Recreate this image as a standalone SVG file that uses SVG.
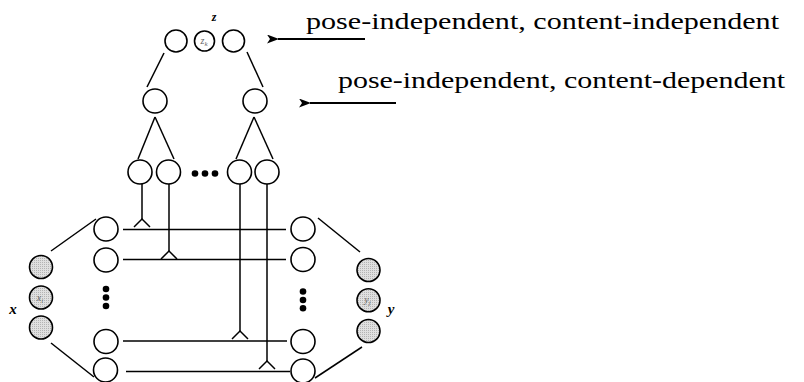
<svg xmlns="http://www.w3.org/2000/svg" width="804" height="382" viewBox="0 0 804 382">
<defs>
<marker id="ah" viewBox="0 0 12 9" refX="1" refY="4.5" markerWidth="12" markerHeight="9" markerUnits="userSpaceOnUse" orient="auto-start-reverse">
<path d="M0,4.5 L12,0 L9,4.5 L12,9 Z" fill="#000"/>
</marker>
<pattern id="dots" width="2" height="2" patternUnits="userSpaceOnUse">
<rect width="2" height="2" fill="#e0e0e0"/>
<rect width="1" height="1" fill="#b4b4b4"/>
</pattern>
</defs>
<style>
.n{fill:#fff;stroke:#000;stroke-width:1.6}
.s{fill:url(#dots);stroke:#000;stroke-width:1.6}
.c line,.c path{stroke:#000;stroke-width:1.5;fill:none}
.c .arr{stroke-width:2.2}
.d{fill:#000}
text{font-family:Liberation Serif, DejaVu Serif, serif}
.big{font-size:24px;fill:#000}
.m{font-style:italic;font-weight:bold;fill:#000}
.in{font-style:italic;font-size:10px;fill:#666}
</style>
<rect width="804" height="382" fill="#fff"/>

<g class="c" id="connectors">
<line x1="164" y1="53" x2="147" y2="87"/>
<line x1="247" y1="52" x2="263" y2="87"/>
<line x1="155" y1="117" x2="138" y2="159"/>
<line x1="155" y1="117" x2="174" y2="159"/>
<line x1="254" y1="117" x2="236" y2="159"/>
<line x1="254" y1="117" x2="273" y2="159"/>
<line x1="142" y1="184" x2="142" y2="219"/>
<path d="M134,227 L142,219 L150,227"/>
<line x1="169" y1="184" x2="169" y2="251"/>
<path d="M161,259 L169,251 L177,259"/>
<line x1="240" y1="184" x2="240" y2="331"/>
<path d="M232,339 L240,331 L248,339"/>
<line x1="267" y1="184" x2="267" y2="361"/>
<path d="M259,369 L267,361 L275,369"/>
<line x1="123" y1="229.5" x2="286" y2="229.5"/>
<line x1="123" y1="259.5" x2="286" y2="259.5"/>
<line x1="123" y1="341" x2="287" y2="341"/>
<line x1="126" y1="371.5" x2="290" y2="371.5"/>
<line x1="51" y1="251" x2="96" y2="219"/>
<line x1="51" y1="343" x2="94" y2="377"/>
<line x1="318" y1="218" x2="360" y2="252"/>
<line x1="362" y1="347" x2="315" y2="378"/>
<line class="arr" x1="365" y1="39" x2="278" y2="39" marker-end="url(#ah)"/>
<line class="arr" x1="396" y1="103" x2="310" y2="103" marker-end="url(#ah)"/>
</g>

<g id="top-left"><circle class="n" cx="176" cy="41" r="11"/></g>
<g id="top-zk"><circle class="n" cx="204.5" cy="41" r="10"/><text class="in" x="204" y="44" text-anchor="middle">z<tspan font-size="7" dy="2">k</tspan></text></g>
<g id="top-right"><circle class="n" cx="233.5" cy="41" r="11"/></g>
<g id="z-label"><text class="m" x="214" y="21" font-size="12" text-anchor="middle">z</text></g>

<g id="mid-left"><circle class="n" cx="155" cy="101" r="12"/></g>
<g id="mid-right"><circle class="n" cx="255" cy="101" r="12"/></g>

<g id="leaf-1"><circle class="n" cx="140" cy="172" r="12"/></g>
<g id="leaf-2"><circle class="n" cx="168.5" cy="172" r="12"/></g>
<g id="leaf-dots"><circle class="d" cx="195" cy="173.5" r="3.3"/><circle class="d" cx="205" cy="173.5" r="3.3"/><circle class="d" cx="215" cy="173.5" r="3.3"/></g>
<g id="leaf-3"><circle class="n" cx="239.5" cy="172" r="12"/></g>
<g id="leaf-4"><circle class="n" cx="267" cy="172" r="12"/></g>

<g id="l1"><circle class="n" cx="106" cy="229" r="12"/></g>
<g id="l2"><circle class="n" cx="106" cy="260" r="12"/></g>
<g id="l-dots"><circle class="d" cx="106" cy="289" r="3.3"/><circle class="d" cx="106" cy="297.5" r="3.3"/><circle class="d" cx="106" cy="306" r="3.3"/></g>
<g id="l3"><circle class="n" cx="106" cy="341.5" r="12"/></g>
<g id="l4"><circle class="n" cx="105.5" cy="370" r="12"/></g>

<g id="r1"><circle class="n" cx="303" cy="229" r="12"/></g>
<g id="r2"><circle class="n" cx="303" cy="259.5" r="12"/></g>
<g id="r-dots"><circle class="d" cx="303" cy="291.5" r="3.3"/><circle class="d" cx="303" cy="300" r="3.3"/><circle class="d" cx="303" cy="308.3" r="3.3"/></g>
<g id="r3"><circle class="n" cx="303" cy="341.5" r="12"/></g>
<g id="r4"><circle class="n" cx="303" cy="371" r="12"/></g>

<g id="x1"><circle class="s" cx="41" cy="267" r="11.5"/></g>
<g id="xi"><circle class="s" cx="41" cy="297.5" r="11.5"/><text class="in" x="40" y="301" text-anchor="middle">x<tspan font-size="7" dy="2">i</tspan></text></g>
<g id="x3"><circle class="s" cx="41" cy="327.5" r="11.5"/></g>
<g id="x-label"><text class="m" x="13" y="314" font-size="15" text-anchor="middle">x</text></g>

<g id="y1"><circle class="s" cx="368.5" cy="270" r="11.5"/></g>
<g id="yj"><circle class="s" cx="368.5" cy="300.3" r="11.5"/><text class="in" x="367.5" y="303" text-anchor="middle">y<tspan font-size="7" dy="2">j</tspan></text></g>
<g id="y3"><circle class="s" cx="368.5" cy="331" r="11.5"/></g>
<g id="y-label"><text class="m" x="391" y="314" font-size="15" text-anchor="middle">y</text></g>

<g id="label-1"><text class="big" x="306" y="29" textLength="473" lengthAdjust="spacingAndGlyphs">pose-independent, content-independent</text></g>
<g id="label-2"><text class="big" x="338" y="88" textLength="447" lengthAdjust="spacingAndGlyphs">pose-independent, content-dependent</text></g>
</svg>
